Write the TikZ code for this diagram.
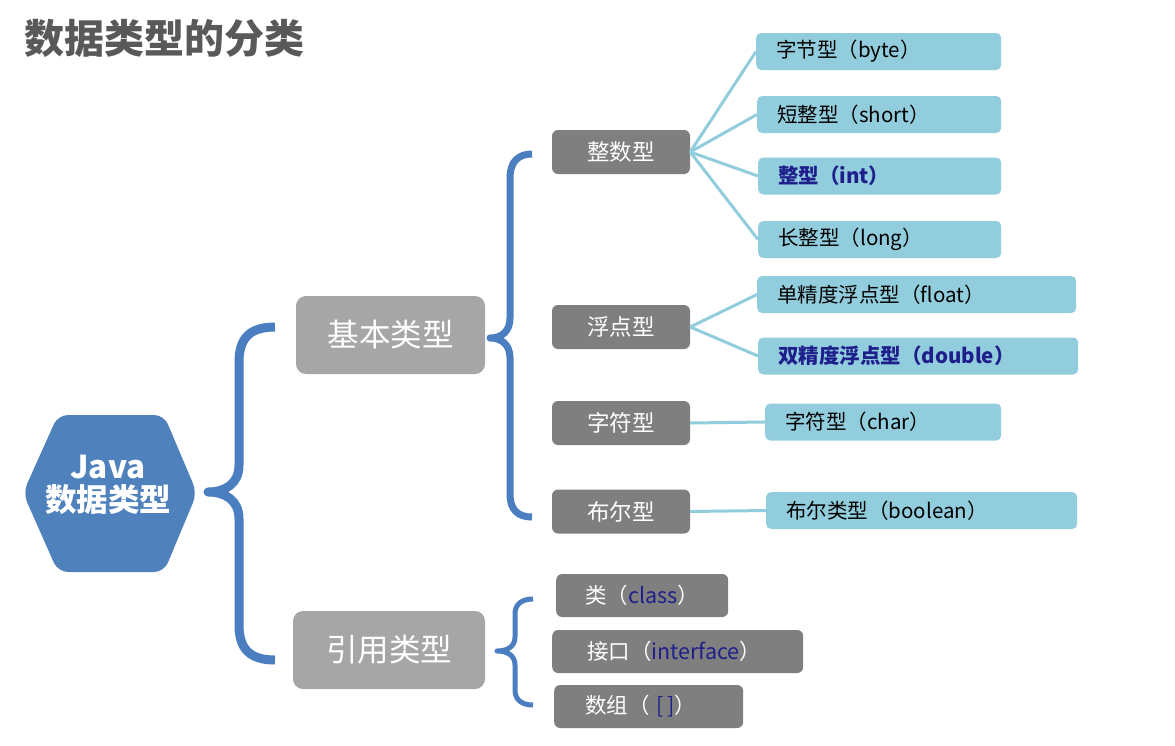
\documentclass[tikz,border=0pt]{standalone}
\usepackage{fontspec}
\setmainfont{Noto Sans CJK SC}
\definecolor{bl}{HTML}{4A7EC0}
\definecolor{hexc}{HTML}{4F81BD}
\definecolor{gA}{HTML}{A6A6A6}
\definecolor{dk}{HTML}{7F7F7F}
\definecolor{lb}{HTML}{92CDDD}
\definecolor{navy}{HTML}{1F1F8C}
\definecolor{tgray}{HTML}{595959}
\tikzset{
  bigbox/.style={rounded corners=10pt, fill=gA, text=white, font=\fontsize{31.5}{36}\selectfont, inner sep=0pt, minimum height=78pt},
  darkbox/.style={rounded corners=6pt, fill=dk, text=white, font=\fontsize{22.5}{26}\selectfont, inner sep=0pt, minimum width=138pt, minimum height=44pt},
  refbox/.style={rounded corners=6pt, fill=dk, text=white, font=\fontsize{21.5}{25}\selectfont, inner ysep=0pt, minimum height=43pt, anchor=west, align=left},
  lbox/.style={rounded corners=5pt, fill=lb, text=black, font=\fontsize{20.5}{24}\selectfont, inner xsep=20pt, inner ysep=0pt, minimum height=37pt, anchor=west, align=left},
  conn/.style={draw=lb, line width=3pt},
  bracepath/.style={draw=bl, line width=#1, line join=round},
}
\begin{document}
\begin{tikzpicture}[x=1pt,y=-1pt]
\useasboundingbox[fill=white] (0,0) rectangle (1175,745);

% title
\node[anchor=west, inner sep=0pt, text=tgray, font=\bfseries\fontsize{40}{44}\selectfont] (title) at (24,38) {数据类型的分类};

% hexagon
\fill[hexc, rounded corners=10pt] (58,415) -- (164,415) -- (197,493) -- (164,572) -- (58,572) -- (23,493) -- cycle;
\node[text=white, align=center, inner sep=0pt, font=\bfseries\fontsize{31.5}{33}\selectfont] (java) at (108,485) {Java\\数据类型};

% big brace
\draw[bracepath=9pt] (275,327) .. controls (250,327) and (239,338) .. (239,362) -- (239,465) .. controls (239,484) and (225,492) .. (208,492) .. controls (225,492) and (239,500) .. (239,519) -- (239,625) .. controls (239,649) and (250,660) .. (275,660);

% level 1
\node[bigbox, minimum width=189pt] (basic) at (390.5,335) {基本类型};
\node[bigbox, minimum width=192pt] (ref) at (389,650) {引用类型};

% basic brace
\draw[bracepath=7pt] (532,154) .. controls (518,154) and (510,162) .. (510,178) -- (510,318) .. controls (510,331) and (502,338) .. (490,338) .. controls (502,338) and (510,345) .. (510,358) -- (510,494) .. controls (510,510) and (518,517) .. (532,517);

% ref brace
\draw[bracepath=5pt] (533,599) .. controls (522,599) and (515,604) .. (515,614) -- (515,637) .. controls (515,646) and (508,651) .. (497,651) .. controls (508,651) and (515,656) .. (515,665) -- (515,690) .. controls (515,700) and (522,705) .. (533,705);

% level 2 basic
\node[darkbox] (zs) at (621,152) {整数型};
\node[darkbox] (fd) at (621,327) {浮点型};
\node[darkbox] (zf) at (621,423) {字符型};
\node[darkbox] (be) at (621,511.5) {布尔型};

% level 3 basic
\node[lbox, minimum width=245pt, text width=205pt] (byte) at (756,51.5) {字节型（byte）};
\node[lbox, minimum width=244pt, text width=204pt] (short) at (757,114.5) {短整型（short）};
\node[lbox, minimum width=243pt, text width=203pt, text=navy, font=\bfseries\fontsize{20.5}{24}\selectfont] (int) at (758,176) {整型（int）};
\node[lbox, minimum width=243pt, text width=203pt] (long) at (758,239.5) {长整型（long）};
\node[lbox, minimum width=319pt, text width=279pt] (float) at (757,294.5) {单精度浮点型（float）};
\node[lbox, minimum width=320pt, text width=280pt, text=navy, font=\bfseries\fontsize{20.5}{24}\selectfont] (double) at (758,356) {双精度浮点型（double）};
\node[lbox, minimum width=236pt, text width=196pt] (char) at (765,422) {字符型（char）};
\node[lbox, minimum width=311pt, text width=271pt] (bool) at (766,510.5) {布尔类型（boolean）};

% connectors
\draw[conn] (zs.east) -- (byte.west);
\draw[conn] (zs.east) -- (short.west);
\draw[conn] (zs.east) -- (int.west);
\draw[conn] (zs.east) -- (long.west);
\draw[conn] (fd.east) -- (float.west);
\draw[conn] (fd.east) -- (double.west);
\draw[conn] (zf.east) -- (char.west);
\draw[conn] (be.east) -- (bool.west);

% reference types
\node[refbox, inner xsep=29pt, minimum width=172pt, text width=114pt] (cls) at (556,595.5) {类（\textcolor{navy}{class}）};
\node[refbox, inner xsep=35pt, minimum width=251pt, text width=181pt] (ifc) at (552,651.5) {接口（\textcolor{navy}{interface}）};
\node[refbox, inner xsep=31pt, minimum width=189pt, text width=127pt] (arr) at (554,706.5) {数组（ \textcolor{navy}{[\,]}）};
\end{tikzpicture}
\end{document}
